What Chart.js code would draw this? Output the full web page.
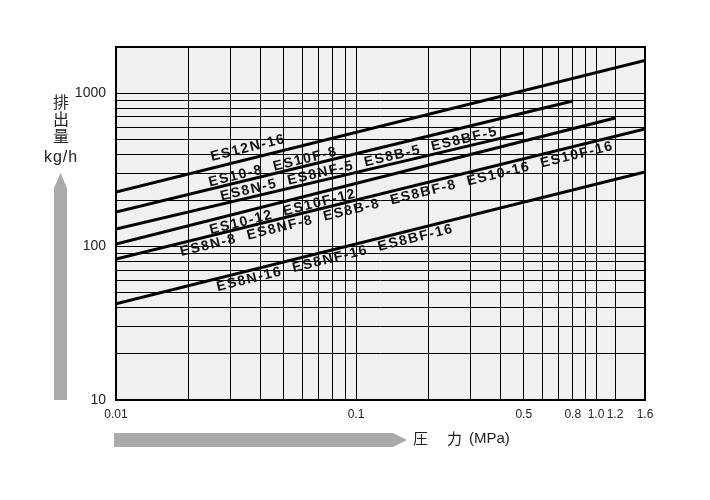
<!DOCTYPE html>
<html>
<head>
<meta charset="utf-8">
<script src="https://cdn.jsdelivr.net/npm/chart.js@4.4.1/dist/chart.umd.min.js"></script>
<style>
  html, body { margin: 0; padding: 0; background: #fff; }
  #wrap { width: 710px; height: 500px; }
</style>
</head>
<body>
<div id="wrap"><canvas id="chart" width="710" height="500"></canvas></div>
<script>
// Datos del grafico (presion MPa -> caudal kg/h)
const xGrid = [0.01, 0.02, 0.03, 0.04, 0.05, 0.06, 0.07, 0.08, 0.09,
               0.1, 0.2, 0.3, 0.4, 0.5, 0.6, 0.7, 0.8, 0.9, 1.0, 1.2, 1.6];
const xTickLabels = ['0.01', '0.1', '0.5', '0.8', '1.0', '1.2', '1.6'];
const xTickValues = [0.01, 0.1, 0.5, 0.8, 1.0, 1.2, 1.6];
const yGrid = [10, 20, 30, 40, 50, 60, 70, 80, 90,
               100, 200, 300, 400, 500, 600, 700, 800, 900, 1000];
const yTickValues = [10, 100, 1000];

// una linea por grupo de modelos
const pressES12N16 = [0.01, 1.6];
const flowES12N16 = [227, 1635];
const pressES10_8 = [0.01, 0.8];
const flowES10_8 = [168, 890];
const pressES8_5 = [0.01, 0.5];
const flowES8_5 = [130, 551];
const pressES10_12 = [0.01, 1.2];
const flowES10_12 = [104, 689];
const pressES8_8 = [0.01, 1.6];
const flowES8_8 = [83, 585];
const pressES8_16 = [0.01, 1.6];
const flowES8_16 = [42.3, 306];

const lineNames = [
    'ES12N-16',
    'ES10-8  ES10F-8',
    'ES8N-5  ES8NF-5  ES8B-5  ES8BF-5',
    'ES10-12  ES10F-12',
    'ES8N-8  ES8NF-8  ES8B-8  ES8BF-8  ES10-16  ES10F-16',
    'ES8N-16  ES8NF-16  ES8BF-16'
];

// Donde va cada etiqueta (coordenadas de datos del centro del texto)
const labelSpots = [
    [0.0355, 439],
    [0.0451, 330],
    [0.103, 345],
    [0.0496, 168],
    [0.148, 204],
    [0.0818, 84.3]
];

function toPoints(xs, ys) {
    return xs.map((x, i) => ({ x: x, y: ys[i] }));
}

const series = [
    toPoints(pressES12N16, flowES12N16),
    toPoints(pressES10_8, flowES10_8),
    toPoints(pressES8_5, flowES8_5),
    toPoints(pressES10_12, flowES10_12),
    toPoints(pressES8_8, flowES8_8),
    toPoints(pressES8_16, flowES8_16)
];

// Fondo gris del area y marco
const framePlugin = {
    id: 'frame',
    beforeDraw(chart) {
        const { ctx, chartArea: a } = chart;
        ctx.save();
        ctx.fillStyle = '#f0f0f0';
        ctx.fillRect(a.left, a.top, a.right - a.left, a.bottom - a.top);
        ctx.restore();
    },
    afterDatasetsDraw(chart) {
        const { ctx, chartArea: a, scales } = chart;
        ctx.save();
        ctx.strokeStyle = '#000';
        ctx.lineWidth = 2;
        ctx.strokeRect(a.left, a.top, a.right - a.left, a.bottom - a.top);

        // etiquetas de las lineas
        ctx.fillStyle = '#111';
        ctx.font = 'bold 14px "Liberation Sans", Arial, sans-serif';
        ctx.letterSpacing = '1.5px';
        ctx.textAlign = 'center';
        ctx.textBaseline = 'middle';
        lineNames.forEach((txt, i) => {
            const px = scales.x.getPixelForValue(labelSpots[i][0]);
            const py = scales.y.getPixelForValue(labelSpots[i][1]);
            const d = series[i];
            const dx = scales.x.getPixelForValue(d[1].x) - scales.x.getPixelForValue(d[0].x);
            const dy = scales.y.getPixelForValue(d[1].y) - scales.y.getPixelForValue(d[0].y);
            ctx.save();
            ctx.translate(px, py);
            ctx.rotate(Math.atan2(dy, dx));
            ctx.fillText(txt, 0, 0);
            ctx.restore();
        });
        ctx.restore();
    },
    afterDraw(chart) {
        const { ctx } = chart;
        ctx.save();
        // flecha vertical
        ctx.fillStyle = '#aaaaaa';
        ctx.beginPath();
        ctx.moveTo(54, 400);
        ctx.lineTo(54, 188);
        ctx.lineTo(60.5, 173);
        ctx.lineTo(67, 188);
        ctx.lineTo(67, 400);
        ctx.closePath();
        ctx.fill();
        // flecha horizontal
        ctx.beginPath();
        ctx.moveTo(114, 433);
        ctx.lineTo(393, 433);
        ctx.lineTo(407, 440);
        ctx.lineTo(393, 447);
        ctx.lineTo(114, 447);
        ctx.closePath();
        ctx.fill();

        // titulos de ejes
        ctx.fillStyle = '#222';
        ctx.textAlign = 'center';
        ctx.textBaseline = 'middle';
        ctx.font = '16px "Noto Sans CJK JP", sans-serif';
        ['排', '出', '量'].forEach((c, i) => ctx.fillText(c, 61, 102 + i * 17));
        ctx.font = '16px "Liberation Sans", Arial, sans-serif';
        ctx.letterSpacing = '1px';
        ctx.fillText('kg/h', 61, 158);
        ctx.letterSpacing = '0px';
        ctx.textAlign = 'left';
        ctx.font = '15px "Noto Sans CJK JP", sans-serif';
        ctx.fillText('圧', 413, 438);
        ctx.fillText('力', 447, 438);
        ctx.font = '15px "Liberation Sans", Arial, sans-serif';
        ctx.fillText('(MPa)', 469, 439);
        ctx.restore();
    }
};

const ctx = document.getElementById('chart').getContext('2d');
const chart = new Chart(ctx, {
    type: 'line',
    data: {
        datasets: series.map((pts, i) => ({
            label: lineNames[i],
            data: pts,
            borderColor: '#000',
            borderWidth: 3,
            pointRadius: 0,
            tension: 0,
            fill: false
        }))
    },
    options: {
        responsive: false,
        animation: false,
        devicePixelRatio: 1,
        layout: { padding: { top: 47, right: 65, left: 0, bottom: 0 } },
        plugins: {
            legend: { display: false },
            tooltip: { enabled: false }
        },
        scales: {
            x: {
                type: 'logarithmic',
                min: 0.01,
                max: 1.6,
                border: { display: false },
                grid: { color: '#000', lineWidth: 1, drawTicks: false },
                afterBuildTicks(scale) {
                    scale.ticks = xGrid.map(v => ({ value: v }));
                },
                afterFit(scale) { scale.height = 100; },
                ticks: {
                    autoSkip: false,
                    maxRotation: 0,
                    padding: 7,
                    color: '#222',
                    font: { family: '"Liberation Sans", Arial, sans-serif', size: 12 },
                    callback(value) {
                        const k = xTickValues.indexOf(value);
                        return k >= 0 ? xTickLabels[k] : '';
                    }
                }
            },
            y: {
                type: 'logarithmic',
                min: 10,
                max: 2000,
                border: { display: false },
                grid: { color: '#000', lineWidth: 1, drawTicks: false },
                afterBuildTicks(scale) {
                    scale.ticks = yGrid.map(v => ({ value: v }));
                },
                afterFit(scale) { scale.width = 116; },
                ticks: {
                    autoSkip: false,
                    padding: 10,
                    color: '#222',
                    font: { family: '"Liberation Sans", Arial, sans-serif', size: 14 },
                    callback(value) {
                        return yTickValues.includes(value) ? String(value) : '';
                    }
                }
            }
        }
    },
    plugins: [framePlugin]
});
</script>
</body>
</html>
